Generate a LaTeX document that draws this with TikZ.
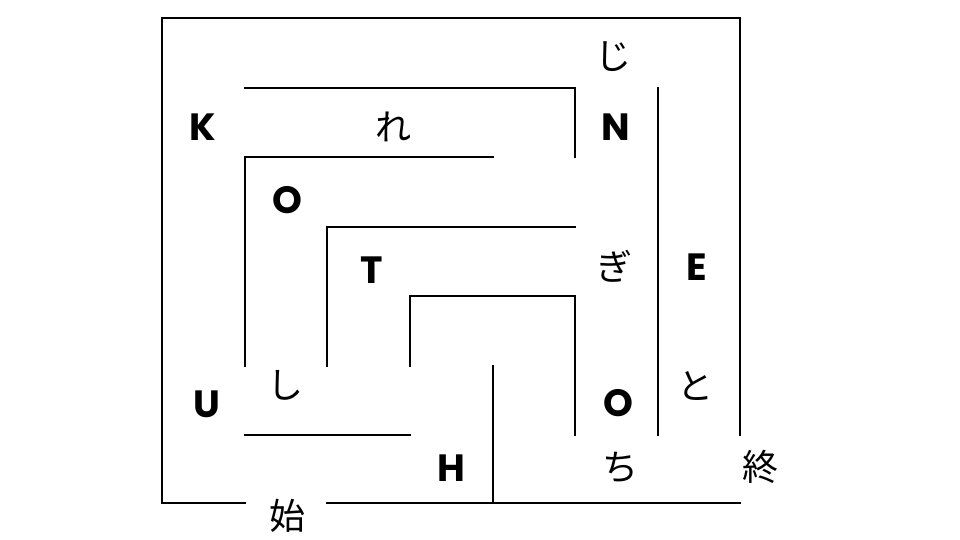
\documentclass[tikz,border=0pt]{standalone}
\usepackage{fontspec}
\setmainfont{Poppins}
\newfontfamily\jpfont{Noto Sans CJK JP}
\begin{document}
\begin{tikzpicture}[x=1pt,y=-1pt,
  wall/.style={line width=2.4pt,line cap=rect},
  lat/.style={font=\fontsize{38}{38}\selectfont\bfseries,inner sep=0pt},
  jp/.style={font=\jpfont\fontsize{36}{36}\selectfont,inner sep=0pt}]
\useasboundingbox (0,0) rectangle (960,540);
% outer walls
\draw[wall] (245,503) -- (162,503) -- (162,18) -- (740,18) -- (740,435);
\draw[wall] (327,503) -- (740,503);
% inner walls
\draw[wall] (245,88) -- (575,88) -- (575,157);
\draw[wall] (493,157) -- (245,157) -- (245,366);
\draw[wall] (327,366) -- (327,227) -- (575,227);
\draw[wall] (410,366) -- (410,296) -- (575,296) -- (575,435);
\draw[wall] (245,435) -- (410,435);
\draw[wall] (493,366) -- (493,503);
\draw[wall] (658,88) -- (658,435);
% labels
\node[jp]  (ji)   at (613,57)  {じ};
\node[lat] (K)    at (203,127) {K};
\node[jp]  (re)   at (393,127) {れ};
\node[lat] (N)    at (616,127) {N};
\node[lat] (O1)   at (287,200) {O};
\node[lat] (T)    at (372,270) {T};
\node[jp]  (gi)   at (614,266) {ぎ};
\node[lat] (E)    at (697,267) {E};
\node[jp]  (shi)  at (285,385) {し};
\node[lat] (U)    at (207,404) {U};
\node[lat] (O2)   at (618,403) {O};
\node[jp]  (to)   at (695,386) {と};
\node[lat] (H)    at (451,468) {H};
\node[jp]  (chi)  at (620,467) {ち};
\node[jp]  (owari) at (760,467) {終};
\node[jp]  (haji) at (287,516) {始};
\end{tikzpicture}
\end{document}
